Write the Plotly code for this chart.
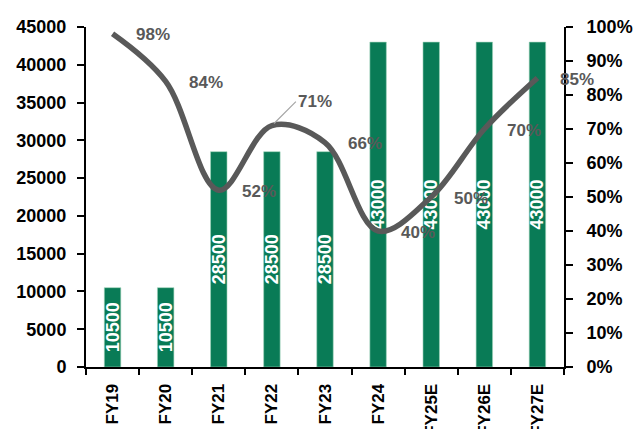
import plotly.graph_objects as go

# Fiscal years, capacity (bars, left axis) and utilisation (line, right axis)
years = ["FY19", "FY20", "FY21", "FY22", "FY23", "FY24", "FY25E", "FY26E", "FY27E"]
capacity = [10500, 10500, 28500, 28500, 28500, 43000, 43000, 43000, 43000]
utilisation = [0.98, 0.84, 0.52, 0.71, 0.66, 0.40, 0.50, 0.70, 0.85]

left_ticks = list(range(0, 45001, 5000))
right_ticks = [i / 10 for i in range(11)]

FONT = "Liberation Sans, Arial, sans-serif"
BAR = "#097B56"
LINE = "#595959"

# the FY22 label sits off the curve with a leader line
callout_idx = 3

fig = go.Figure()

fig.add_trace(go.Bar(
    x=years, y=capacity,
    marker=dict(color=BAR, line=dict(color="#9fd3bb", width=0.6)),
    text=[str(v) for v in capacity],
    texttemplate="<b>%{text}</b>",
    textposition="inside",
    insidetextanchor="middle",
    textangle=-90,
    constraintext="none",
    textfont=dict(family=FONT, size=18, color="white"),
    yaxis="y",
))

fig.add_trace(go.Scatter(
    x=years, y=utilisation,
    mode="lines",
    line=dict(color=LINE, width=5.5, shape="spline", smoothing=1.0),
    yaxis="y2",
    cliponaxis=False,
))

# utilisation labels to the right of each point
for i, (yr, v) in enumerate(zip(years, utilisation)):
    if i == callout_idx:
        fig.add_annotation(
            x=yr, y=v, xref="x", yref="y2",
            text=f"<b>{v:.0%}</b>",
            showarrow=True, arrowhead=0, arrowwidth=1.2, arrowcolor="#A6A6A6",
            ax=24, ay=-24, xanchor="left", yanchor="middle",
            font=dict(family=FONT, size=17, color=LINE),
            standoff=3,
        )
    else:
        fig.add_annotation(
            x=yr, y=v, xref="x", yref="y2",
            text=f"<b>{v:.0%}</b>",
            showarrow=False, xanchor="left", yanchor="middle",
            xshift=21, yshift=-1,
            font=dict(family=FONT, size=17, color=LINE),
        )

fig.update_layout(
    width=635, height=429,
    margin=dict(l=86, r=71, t=27, b=62),
    plot_bgcolor="white", paper_bgcolor="white",
    showlegend=False,
    bargap=0.69,
    font=dict(family=FONT, size=17, color="black"),
    xaxis=dict(
        type="category",
        range=[-0.5, len(years) - 0.5],
        automargin=False,
        tickvals=years,
        ticktext=[f"<b>{y}</b>" for y in years],
        showline=True, linecolor="black", linewidth=2,
        ticks="outside", tickson="boundaries", ticklen=6, tickwidth=2, tickcolor="black",
        tickangle=-90,
        tickfont=dict(family=FONT, size=17, color="black"),
        ticklabelstandoff=8,
        showgrid=False,
    ),
    yaxis=dict(
        range=[0, 45000],
        automargin=False,
        tickvals=left_ticks,
        ticktext=[f"<b>{v}</b>" for v in left_ticks],
        showline=True, linecolor="black", linewidth=2,
        ticks="outside", ticklen=7, tickwidth=2, tickcolor="black",
        tickfont=dict(family=FONT, size=18, color="black"),
        ticklabelstandoff=7,
        showgrid=False, zeroline=False,
    ),
    yaxis2=dict(
        range=[0, 1],
        automargin=False,
        tickvals=right_ticks,
        ticktext=[f"<b>{round(v * 100)}%</b>" for v in right_ticks],
        overlaying="y", side="right",
        showline=True, linecolor="black", linewidth=2,
        ticks="outside", ticklen=7, tickwidth=2, tickcolor="black",
        tickfont=dict(family=FONT, size=18, color="black"),
        ticklabelstandoff=10,
        showgrid=False, zeroline=False,
    ),
)

fig.write_html("out.html")
